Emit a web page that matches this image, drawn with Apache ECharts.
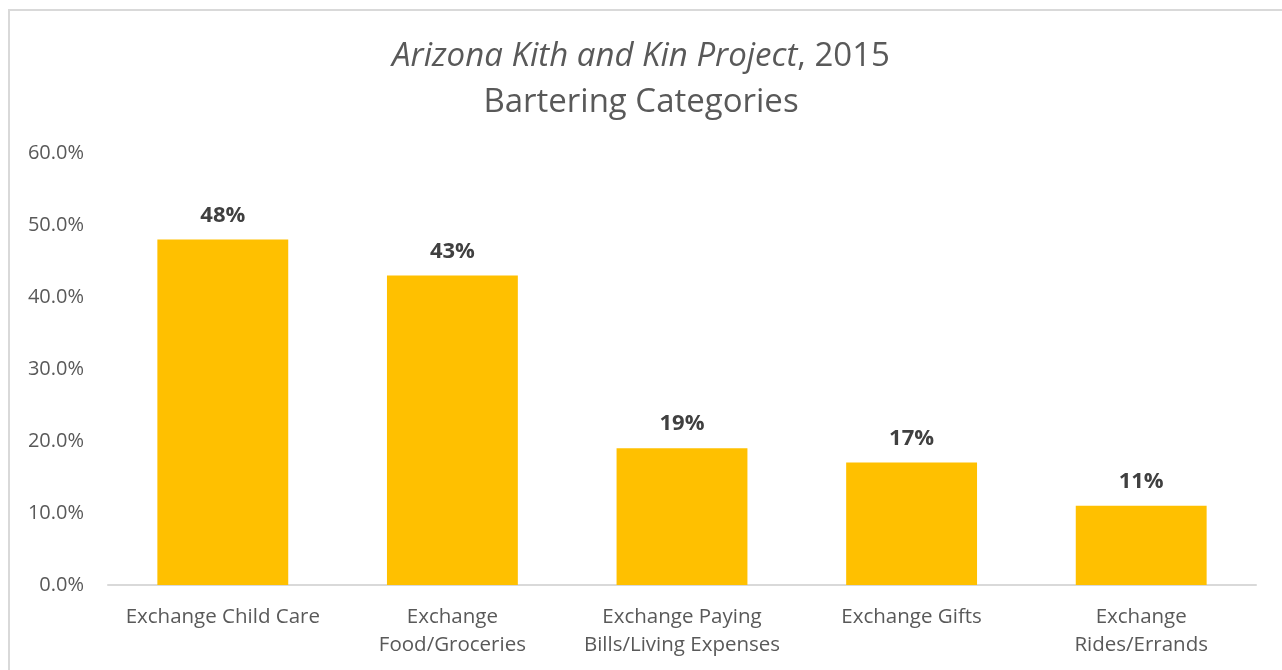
<!DOCTYPE html>
<html>
<head>
<meta charset="utf-8">
<script src="https://cdn.jsdelivr.net/npm/echarts@6/dist/echarts.min.js"></script>
<style>
  html, body { margin: 0; padding: 0; background: #fff; }
  #frame { position: absolute; left: 8px; top: 9px; width: 1300px; height: 700px;
           border-left: 2px solid #d9d9d9; border-top: 2px solid #d9d9d9; }
  #chart { position: absolute; left: 0; top: 0; width: 1282px; height: 670px; }
</style>
</head>
<body>
<div id="frame"></div>
<div id="chart"></div>
<script>
// categories and values
var categories = [
  'Exchange Child Care',
  'Exchange\nFood/Groceries',
  'Exchange Paying\nBills/Living Expenses',
  'Exchange Gifts',
  'Exchange\nRides/Errands'
];
var shares = [48, 43, 19, 17, 11];
var yTicks = { min: 0, max: 60, step: 10 };

var chartDom = document.getElementById('chart');
var myChart = echarts.init(chartDom);

var font = '"Open Sans", Lato, sans-serif';

var option = {
  animation: false,
  title: {
    text: '{i|Arizona Kith and Kin Project}{n|, 2015}\n{n|Bartering Categories}',
    left: 'center',
    top: 29,
    textStyle: {
      fontWeight: 'normal',
      rich: {
        i: { fontFamily: font, fontStyle: 'italic', fontWeight: 'normal', fontSize: 33, color: '#595959', lineHeight: 46 },
        n: { fontFamily: font, fontWeight: 'normal', fontSize: 33, color: '#595959', lineHeight: 46 }
      }
    }
  },
  grid: {
    left: 108,
    right: 26,
    top: 153,
    bottom: 85
  },
  xAxis: {
    type: 'category',
    data: categories,
    axisTick: { show: false },
    axisLine: { lineStyle: { color: '#d9d9d9', width: 2 } },
    axisLabel: {
      color: '#595959',
      fontFamily: font,
      fontSize: 20.5,
      lineHeight: 28,
      margin: 18,
      interval: 0
    }
  },
  yAxis: {
    type: 'value',
    min: yTicks.min,
    max: yTicks.max,
    interval: yTicks.step,
    splitLine: { show: false },
    axisLine: { show: false },
    axisTick: { show: false },
    axisLabel: {
      color: '#595959',
      fontFamily: font,
      fontSize: 20,
      margin: 24,
      formatter: function (v) { return v.toFixed(1) + '%'; }
    }
  },
  series: [
    {
      type: 'bar',
      data: shares,
      barWidth: '57%',
      itemStyle: { color: '#ffc000' },
      label: {
        show: true,
        position: 'top',
        distance: 13,
        color: '#404040',
        fontFamily: font,
        fontWeight: 'bold',
        fontSize: 22,
        formatter: '{c}%'
      }
    }
  ]
};

myChart.setOption(option);
</script>
</body>
</html>
